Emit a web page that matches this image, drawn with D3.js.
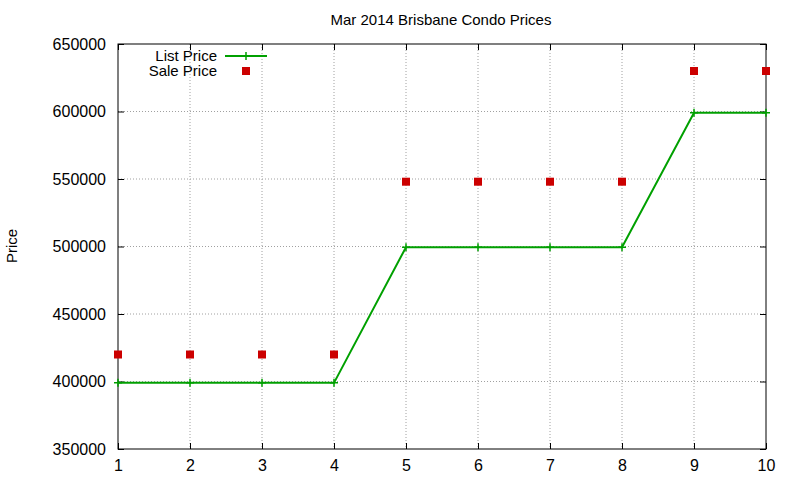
<!DOCTYPE html>
<html><head><meta charset="utf-8">
<script src="https://cdn.jsdelivr.net/npm/d3@7"></script>
<style>body{margin:0;background:#fff}text{font-family:"Liberation Sans",Arial,sans-serif}</style>
</head><body><svg id="c" width="800" height="480"></svg>
<script>
let units=[1,2,3,4,5,6,7,8,9,10];
let listPrice=[399000,399000,399000,399000,499500,499500,499500,499500,599000,599000];
let salePrice=[420000,420000,420000,420000,548000,548000,548000,548000,630000,630000];
let yTicks=[350000,400000,450000,500000,550000,600000,650000];

let svg=d3.select("#c");
let L=118,R=766,T=44,B=449;
let x=d3.scaleLinear().domain([1,10]).range([L,R]);
let y=d3.scaleLinear().domain([350000,650000]).range([B,T]);

// grid
svg.append("g").selectAll("line").data(units.slice(1,-1)).enter().append("line")
  .attr("x1",d=>x(d)).attr("x2",d=>x(d)).attr("y1",T).attr("y2",B)
  .style("stroke","#a0a0a0").style("stroke-dasharray","1,2");
svg.append("g").selectAll("line").data(yTicks.slice(1,-1)).enter().append("line")
  .attr("x1",L).attr("x2",R).attr("y1",d=>y(d)).attr("y2",d=>y(d))
  .style("stroke","#a0a0a0").style("stroke-dasharray","1,2");

// axes (ticks inward, mirrored)
let ax=(g,a)=>{g.call(a);g.select(".domain").remove();g.selectAll("text").style("font-size","16px").attr("fill","#000");};
svg.append("g").attr("transform","translate(0,"+B+")").call(g=>ax(g,d3.axisBottom(x).tickValues(units).tickSize(-6).tickPadding(11).tickFormat(d3.format("d"))));
svg.append("g").attr("transform","translate(0,"+T+")").call(g=>{ax(g,d3.axisTop(x).tickValues(units).tickSize(-6));g.selectAll("text").remove();});
svg.append("g").attr("transform","translate("+L+",0)").call(g=>ax(g,d3.axisLeft(y).tickValues(yTicks).tickSize(-6).tickPadding(12).tickFormat(d3.format("d"))));
svg.append("g").attr("transform","translate("+R+",0)").call(g=>{ax(g,d3.axisRight(y).tickValues(yTicks).tickSize(-6));g.selectAll("text").remove();});
svg.append("rect").attr("x",L).attr("y",T).attr("width",R-L).attr("height",B-T).attr("fill","none").attr("stroke","#000");

// list price line
let green="#00a000", red="#cc0000";
svg.append("path").datum(units).attr("fill","none").attr("stroke",green).attr("stroke-width",2)
  .attr("d",d3.line().x(d=>x(d)).y((d,i)=>y(listPrice[i])));
svg.append("g").selectAll("path").data(units).enter().append("path")
  .attr("d",(d,i)=>`M${x(d)-4},${y(listPrice[i])}h8M${x(d)},${y(listPrice[i])-4}v8`)
  .attr("stroke",green).attr("stroke-width",1.5);
// sale price points
svg.append("g").selectAll("rect").data(units).enter().append("rect")
  .attr("x",d=>x(d)-4).attr("y",(d,i)=>y(salePrice[i])-4).attr("width",8).attr("height",8).attr("fill",red);

// legend
svg.append("text").attr("x",217).attr("y",61).attr("text-anchor","end").style("font-size","15px").text("List Price");
svg.append("line").attr("x1",225).attr("x2",267).attr("y1",56).attr("y2",56).attr("stroke",green).attr("stroke-width",2);
svg.append("path").attr("d","M242,56h8M246,52v8").attr("stroke",green).attr("stroke-width",1.5);
svg.append("text").attr("x",217).attr("y",76).attr("text-anchor","end").style("font-size","15px").text("Sale Price");
svg.append("rect").attr("x",242).attr("y",67).attr("width",8).attr("height",8).attr("fill",red);

// titles
svg.append("text").attr("x",441).attr("y",25).attr("text-anchor","middle").style("font-size","15px").text("Mar 2014 Brisbane Condo Prices");
svg.append("text").attr("transform","translate(17,246) rotate(-90)").attr("text-anchor","middle").style("font-size","15px").text("Price");
</script></body></html>
